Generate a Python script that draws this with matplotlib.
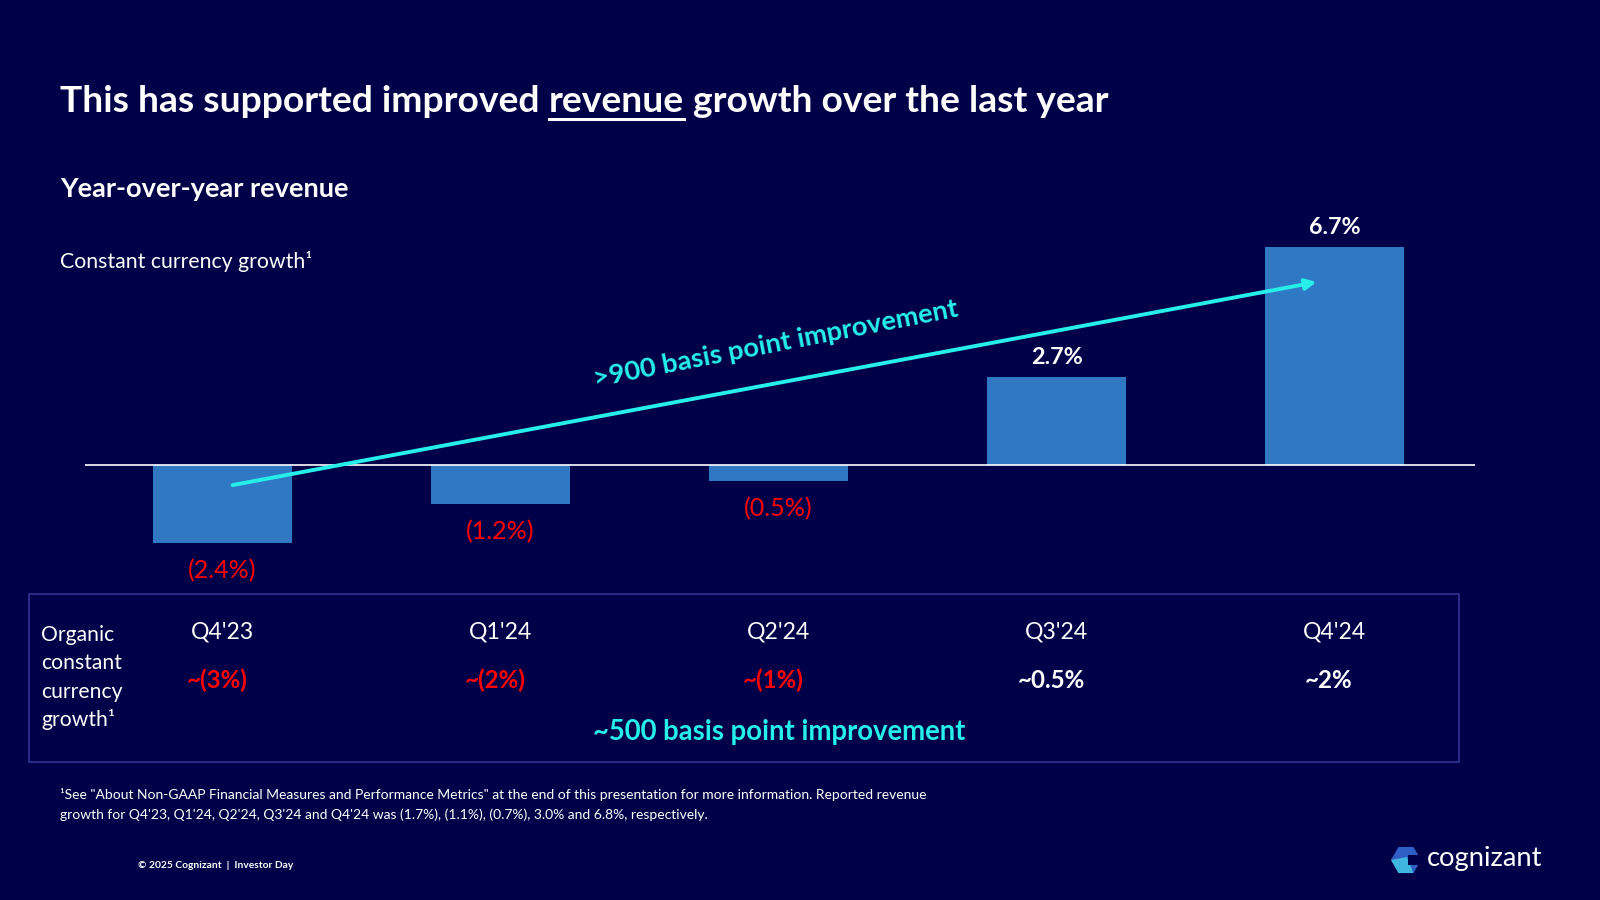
import matplotlib
matplotlib.use('Agg')
import matplotlib.pyplot as plt
from matplotlib.patches import Rectangle, Polygon
from matplotlib.lines import Line2D
from matplotlib.transforms import blended_transform_factory

# ---------------- data ----------------
quarters = ["Q4'23", "Q1'24", "Q2'24", "Q3'24", "Q4'24"]
cc_growth = [-2.4, -1.2, -0.5, 2.7, 6.7]
organic_labels = ["~(3%)", "~(2%)", "~(1%)", "~0.5%", "~2%"]
organic_negative = [True, True, True, False, False]

title_pre = "This has supported improved "
title_ul = "revenue"
title_post = " growth over the last year"
subtitle = "Year-over-year revenue"
axis_note = "Constant currency growth\u00b9"
arrow_text = ">900 basis point improvement"
box_note = "~500 basis point improvement"
organic_title = ["Organic", "constant", "currency", "growth\u00b9"]
footnote1 = ("\u00b9See \"About Non-GAAP Financial Measures and Performance Metrics\" at the end of this "
             "presentation for more information. Reported revenue")
footnote2 = ("growth for Q4'23, Q1'24, Q2'24, Q3'24 and Q4'24 was (1.7%), (1.1%), (0.7%), 3.0% and 6.8%, "
             "respectively.")
copyright_txt = "\u00a9 2025 Cognizant  |  Investor Day"

# ---------------- style ----------------
BG = '#000048'
BAR = '#2F78C4'
CYAN = '#26EFE9'
RED = '#FF0000'
WHITE = '#FFFFFF'
BOXC = '#28318C'
FONT = 'Lato'

W, H = 1600, 900
fig = plt.figure(figsize=(16, 9), dpi=100)
fig.patch.set_facecolor(BG)
renderer = fig.canvas.get_renderer()


def fx(x):
    return x / W


def fy(y):
    return 1 - y / H


def fit_size(s, target_w, weight='normal', base=20):
    t = fig.text(0, 0, s, fontsize=base, fontweight=weight, family=FONT)
    w = t.get_window_extent(renderer).width
    t.remove()
    return base * target_w / w


# ---------------- axes with bars ----------------
ax = fig.add_axes([fx(85), fy(600), (1475 - 85) / W, (600 - 220) / H])
ax.set_facecolor('none')
x = list(range(len(quarters)))
ax.bar(x, cc_growth, width=0.5, color=BAR, zorder=2)
ax.axhline(0, color=WHITE, lw=1.2, zorder=3)
ax.set_xlim(-0.495, 4.505)
ax.set_ylim(-4.15, 7.54)
ax.axis('off')

fs_val = fit_size("(2.4%)", 68)
fs_valb = fit_size("6.7%", 52, 'bold')
for xi, v in zip(x, cc_growth):
    if v < 0:
        ax.annotate(f"({abs(v):.1f}%)", (xi, v), xytext=(0, -20), textcoords='offset points',
                    ha='center', va='center', color=RED, fontsize=fs_val, family=FONT, zorder=4)
    else:
        ax.annotate(f"{v:.1f}%", (xi, v), xytext=(0, 14), textcoords='offset points',
                    ha='center', va='center', color=WHITE, fontsize=fs_valb, fontweight='bold',
                    family=FONT, zorder=4)

# trend arrow
ax.annotate('', xy=(3.935, 5.63), xytext=(0.036, -0.615),
            arrowprops=dict(arrowstyle='-|>', color=CYAN, lw=2.8, mutation_scale=16,
                            shrinkA=0, shrinkB=0), zorder=5)
fs_arrow = fit_size(arrow_text, 372, 'bold')
ax.text(1.99, 3.72, arrow_text, color=CYAN, fontsize=fs_arrow, fontweight='bold', family=FONT,
        rotation=11.0, rotation_mode='anchor', ha='center', va='center', zorder=5)

# ---------------- titles ----------------
fs_title = fit_size(title_pre + title_ul + title_post, 1051, 'bold')
t1 = fig.text(fx(60), fy(112), title_pre, color=WHITE, fontsize=fs_title, fontweight='bold',
              family=FONT, va='baseline')
bb1 = t1.get_window_extent(renderer)
t2 = fig.text(bb1.x1 / W, fy(112), title_ul, color=WHITE, fontsize=fs_title, fontweight='bold',
              family=FONT, va='baseline')
bb2 = t2.get_window_extent(renderer)
fig.text(bb2.x1 / W, fy(112), title_post, color=WHITE, fontsize=fs_title, fontweight='bold',
         family=FONT, va='baseline')
fig.add_artist(Line2D([bb2.x0 / W, bb2.x1 / W], [fy(119), fy(119)], color=WHITE, lw=2.2))

fig.text(fx(60), fy(197), subtitle, color=WHITE, fontsize=fit_size(subtitle, 290, 'bold'),
         fontweight='bold', family=FONT, va='baseline')
fig.text(fx(60), fy(268), axis_note, color=WHITE, fontsize=fit_size(axis_note, 252),
         family=FONT, va='baseline')

# ---------------- organic box ----------------
fig.add_artist(Rectangle((fx(29), fy(762)), (1459 - 29) / W, (762 - 594) / H,
                         transform=fig.transFigure, facecolor='none', edgecolor=BOXC, lw=1.3))
fs_org = fit_size("Organic", 73)
for i, line in enumerate(organic_title):
    fig.text(fx(41), fy(641 + 28.3 * i), line, color=WHITE, fontsize=fs_org, family=FONT,
             va='baseline')

trans = blended_transform_factory(ax.transData, fig.transFigure)
fs_q = fit_size("Q4'23", 63)
fs_ov = fit_size("~(3%)", 61, 'bold')
for xi, q, lab, neg in zip(x, quarters, organic_labels, organic_negative):
    fig.text(xi, fy(639), q, transform=trans, color=WHITE, fontsize=fs_q, family=FONT,
             ha='center', va='baseline')
    fig.text(xi - 0.02, fy(688), lab, transform=trans, color=RED if neg else WHITE,
             fontsize=fs_ov, fontweight='bold', family=FONT, ha='center', va='baseline')

fig.text(fx(779), fy(740), box_note, color=CYAN, fontsize=fit_size(box_note, 374, 'bold'),
         fontweight='bold', family=FONT, ha='center', va='baseline')

# ---------------- footnotes ----------------
fs_fn = fit_size(footnote1, 868)
fig.text(fx(60), fy(799), footnote1, color=WHITE, fontsize=fs_fn, family=FONT, va='baseline')
fig.text(fx(60), fy(819), footnote2, color=WHITE, fontsize=fs_fn, family=FONT, va='baseline')
fig.text(fx(138), fy(868), copyright_txt, color=WHITE, fontsize=fit_size(copyright_txt, 155, 'bold'),
         fontweight='bold', family=FONT, va='baseline')

# ---------------- logo ----------------
cx, cy, r = 1406, 860, 15
hexpts = [(cx - r, cy), (cx - r / 2, cy - r * 0.87), (cx + r / 2, cy - r * 0.87),
          (cx + r, cy), (cx + r / 2, cy + r * 0.87), (cx - r / 2, cy + r * 0.87)]
fig.add_artist(Polygon([(fx(a), fy(b)) for a, b in hexpts], closed=True,
                       transform=fig.transFigure, facecolor='#2F5FC4', edgecolor='none'))
inner = [(cx - r, cy), (cx + 1, cy - 3), (cx + r / 2, cy + r * 0.87), (cx - r / 2, cy + r * 0.87)]
fig.add_artist(Polygon([(fx(a), fy(b)) for a, b in inner], closed=True,
                       transform=fig.transFigure, facecolor='#3FB6E0', edgecolor='none'))
notch = [(cx + 2, cy - 5), (cx + r + 1, cy - 5), (cx + r + 1, cy + 5), (cx + 2, cy + 5)]
fig.add_artist(Polygon([(fx(a), fy(b)) for a, b in notch], closed=True,
                       transform=fig.transFigure, facecolor=BG, edgecolor='none'))
fig.text(fx(1427), fy(866), "cognizant", color=WHITE, fontsize=fit_size("cognizant", 116),
         family=FONT, va='baseline')

fig.savefig('out.png', dpi=100, facecolor=BG)
